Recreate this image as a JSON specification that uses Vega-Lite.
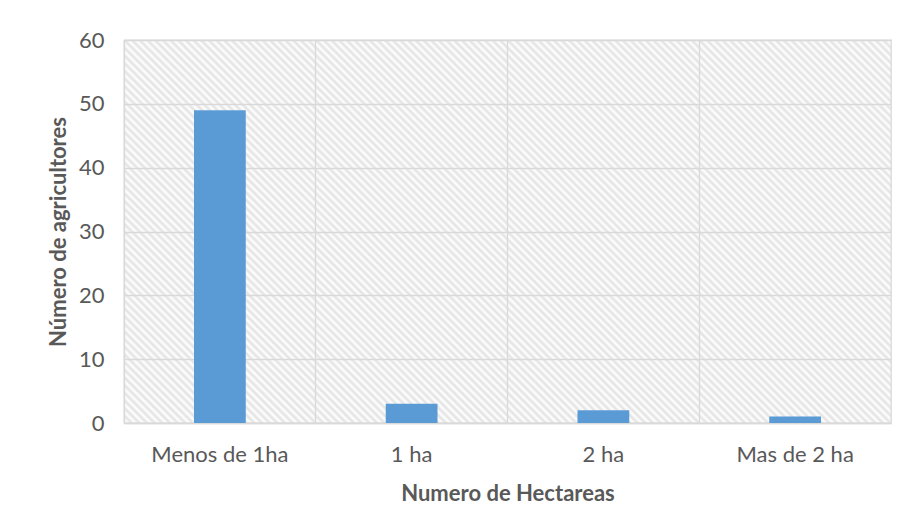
{
  "$schema": "https://vega.github.io/schema/vega-lite/v6.json",
  "width": 767,
  "height": 383,
  "autosize": {"type": "none"},
  "padding": {"left": 124, "top": 40, "right": 16, "bottom": 105},
  "background": "white",
  "data": {"values": [
    {"cat": "Menos de 1ha", "n": 49},
    {"cat": "1 ha", "n": 3},
    {"cat": "2 ha", "n": 2},
    {"cat": "Mas de 2 ha", "n": 1}
  ]},
  "mark": {"type": "bar", "width": {"band": 0.27}, "color": "#5B9BD5"},
  "encoding": {
    "x": {"field": "cat", "type": "nominal", "sort": null,
      "scale": {"paddingInner": 0, "paddingOuter": 0},
      "axis": {"title": "Numero de Hectareas", "labelAngle": 0, "ticks": false, "tickSize": 0, "labelPadding": 21, "titlePadding": 18, "grid": true, "bandPosition": 0, "gridColor": "#d9d9d9", "domainColor": "#d9d9d9", "domainWidth": 1.3}},
    "y": {"field": "n", "type": "quantitative", "scale": {"domain": [0, 60]},
      "axis": {"title": "Número de agricultores", "values": [0, 10, 20, 30, 40, 50, 60], "domain": false, "ticks": false, "tickSize": 0, "labelPadding": 20, "titlePadding": 8, "gridColor": "#d9d9d9"}}
  },
  "config": {
    "font": "Lato",
    "axis": {"labelFont": "Lato", "labelFontSize": 22, "labelColor": "#595959", "titleFont": "Lato", "titleFontSize": 22, "titleFontWeight": "bold", "titleColor": "#595959", "gridWidth": 1.3},
    "view": {"stroke": "#d9d9d9", "strokeWidth": 1.3, "fill": {"gradient": "linear", "x1": 0, "y1": 1, "x2": 1.2, "y2": 0.4008, "stops": [
{"offset":0,"color":"#e2e2e2"},{"offset":0.0033,"color":"#fff"},{"offset":0.0067,"color":"#e2e2e2"},
{"offset":0.01,"color":"#fff"},{"offset":0.0133,"color":"#e2e2e2"},{"offset":0.0167,"color":"#fff"},
{"offset":0.02,"color":"#e2e2e2"},{"offset":0.0233,"color":"#fff"},{"offset":0.0267,"color":"#e2e2e2"},
{"offset":0.03,"color":"#fff"},{"offset":0.0333,"color":"#e2e2e2"},{"offset":0.0367,"color":"#fff"},
{"offset":0.04,"color":"#e2e2e2"},{"offset":0.0433,"color":"#fff"},{"offset":0.0467,"color":"#e2e2e2"},
{"offset":0.05,"color":"#fff"},{"offset":0.0533,"color":"#e2e2e2"},{"offset":0.0567,"color":"#fff"},
{"offset":0.06,"color":"#e2e2e2"},{"offset":0.0633,"color":"#fff"},{"offset":0.0667,"color":"#e2e2e2"},
{"offset":0.07,"color":"#fff"},{"offset":0.0733,"color":"#e2e2e2"},{"offset":0.0767,"color":"#fff"},
{"offset":0.08,"color":"#e2e2e2"},{"offset":0.0833,"color":"#fff"},{"offset":0.0867,"color":"#e2e2e2"},
{"offset":0.09,"color":"#fff"},{"offset":0.0933,"color":"#e2e2e2"},{"offset":0.0967,"color":"#fff"},
{"offset":0.10,"color":"#e2e2e2"},{"offset":0.1033,"color":"#fff"},{"offset":0.1067,"color":"#e2e2e2"},
{"offset":0.11,"color":"#fff"},{"offset":0.1133,"color":"#e2e2e2"},{"offset":0.1167,"color":"#fff"},
{"offset":0.12,"color":"#e2e2e2"},{"offset":0.1233,"color":"#fff"},{"offset":0.1267,"color":"#e2e2e2"},
{"offset":0.13,"color":"#fff"},{"offset":0.1333,"color":"#e2e2e2"},{"offset":0.1367,"color":"#fff"},
{"offset":0.14,"color":"#e2e2e2"},{"offset":0.1433,"color":"#fff"},{"offset":0.1467,"color":"#e2e2e2"},
{"offset":0.15,"color":"#fff"},{"offset":0.1533,"color":"#e2e2e2"},{"offset":0.1567,"color":"#fff"},
{"offset":0.16,"color":"#e2e2e2"},{"offset":0.1633,"color":"#fff"},{"offset":0.1667,"color":"#e2e2e2"},
{"offset":0.17,"color":"#fff"},{"offset":0.1733,"color":"#e2e2e2"},{"offset":0.1767,"color":"#fff"},
{"offset":0.18,"color":"#e2e2e2"},{"offset":0.1833,"color":"#fff"},{"offset":0.1867,"color":"#e2e2e2"},
{"offset":0.19,"color":"#fff"},{"offset":0.1933,"color":"#e2e2e2"},{"offset":0.1967,"color":"#fff"},
{"offset":0.20,"color":"#e2e2e2"},{"offset":0.2033,"color":"#fff"},{"offset":0.2067,"color":"#e2e2e2"},
{"offset":0.21,"color":"#fff"},{"offset":0.2133,"color":"#e2e2e2"},{"offset":0.2167,"color":"#fff"},
{"offset":0.22,"color":"#e2e2e2"},{"offset":0.2233,"color":"#fff"},{"offset":0.2267,"color":"#e2e2e2"},
{"offset":0.23,"color":"#fff"},{"offset":0.2333,"color":"#e2e2e2"},{"offset":0.2367,"color":"#fff"},
{"offset":0.24,"color":"#e2e2e2"},{"offset":0.2433,"color":"#fff"},{"offset":0.2467,"color":"#e2e2e2"},
{"offset":0.25,"color":"#fff"},{"offset":0.2533,"color":"#e2e2e2"},{"offset":0.2567,"color":"#fff"},
{"offset":0.26,"color":"#e2e2e2"},{"offset":0.2633,"color":"#fff"},{"offset":0.2667,"color":"#e2e2e2"},
{"offset":0.27,"color":"#fff"},{"offset":0.2733,"color":"#e2e2e2"},{"offset":0.2767,"color":"#fff"},
{"offset":0.28,"color":"#e2e2e2"},{"offset":0.2833,"color":"#fff"},{"offset":0.2867,"color":"#e2e2e2"},
{"offset":0.29,"color":"#fff"},{"offset":0.2933,"color":"#e2e2e2"},{"offset":0.2967,"color":"#fff"},
{"offset":0.30,"color":"#e2e2e2"},{"offset":0.3033,"color":"#fff"},{"offset":0.3067,"color":"#e2e2e2"},
{"offset":0.31,"color":"#fff"},{"offset":0.3133,"color":"#e2e2e2"},{"offset":0.3167,"color":"#fff"},
{"offset":0.32,"color":"#e2e2e2"},{"offset":0.3233,"color":"#fff"},{"offset":0.3267,"color":"#e2e2e2"},
{"offset":0.33,"color":"#fff"},{"offset":0.3333,"color":"#e2e2e2"},{"offset":0.3367,"color":"#fff"},
{"offset":0.34,"color":"#e2e2e2"},{"offset":0.3433,"color":"#fff"},{"offset":0.3467,"color":"#e2e2e2"},
{"offset":0.35,"color":"#fff"},{"offset":0.3533,"color":"#e2e2e2"},{"offset":0.3567,"color":"#fff"},
{"offset":0.36,"color":"#e2e2e2"},{"offset":0.3633,"color":"#fff"},{"offset":0.3667,"color":"#e2e2e2"},
{"offset":0.37,"color":"#fff"},{"offset":0.3733,"color":"#e2e2e2"},{"offset":0.3767,"color":"#fff"},
{"offset":0.38,"color":"#e2e2e2"},{"offset":0.3833,"color":"#fff"},{"offset":0.3867,"color":"#e2e2e2"},
{"offset":0.39,"color":"#fff"},{"offset":0.3933,"color":"#e2e2e2"},{"offset":0.3967,"color":"#fff"},
{"offset":0.40,"color":"#e2e2e2"},{"offset":0.4033,"color":"#fff"},{"offset":0.4067,"color":"#e2e2e2"},
{"offset":0.41,"color":"#fff"},{"offset":0.4133,"color":"#e2e2e2"},{"offset":0.4167,"color":"#fff"},
{"offset":0.42,"color":"#e2e2e2"},{"offset":0.4233,"color":"#fff"},{"offset":0.4267,"color":"#e2e2e2"},
{"offset":0.43,"color":"#fff"},{"offset":0.4333,"color":"#e2e2e2"},{"offset":0.4367,"color":"#fff"},
{"offset":0.44,"color":"#e2e2e2"},{"offset":0.4433,"color":"#fff"},{"offset":0.4467,"color":"#e2e2e2"},
{"offset":0.45,"color":"#fff"},{"offset":0.4533,"color":"#e2e2e2"},{"offset":0.4567,"color":"#fff"},
{"offset":0.46,"color":"#e2e2e2"},{"offset":0.4633,"color":"#fff"},{"offset":0.4667,"color":"#e2e2e2"},
{"offset":0.47,"color":"#fff"},{"offset":0.4733,"color":"#e2e2e2"},{"offset":0.4767,"color":"#fff"},
{"offset":0.48,"color":"#e2e2e2"},{"offset":0.4833,"color":"#fff"},{"offset":0.4867,"color":"#e2e2e2"},
{"offset":0.49,"color":"#fff"},{"offset":0.4933,"color":"#e2e2e2"},{"offset":0.4967,"color":"#fff"},
{"offset":0.50,"color":"#e2e2e2"},{"offset":0.5033,"color":"#fff"},{"offset":0.5067,"color":"#e2e2e2"},
{"offset":0.51,"color":"#fff"},{"offset":0.5133,"color":"#e2e2e2"},{"offset":0.5167,"color":"#fff"},
{"offset":0.52,"color":"#e2e2e2"},{"offset":0.5233,"color":"#fff"},{"offset":0.5267,"color":"#e2e2e2"},
{"offset":0.53,"color":"#fff"},{"offset":0.5333,"color":"#e2e2e2"},{"offset":0.5367,"color":"#fff"},
{"offset":0.54,"color":"#e2e2e2"},{"offset":0.5433,"color":"#fff"},{"offset":0.5467,"color":"#e2e2e2"},
{"offset":0.55,"color":"#fff"},{"offset":0.5533,"color":"#e2e2e2"},{"offset":0.5567,"color":"#fff"},
{"offset":0.56,"color":"#e2e2e2"},{"offset":0.5633,"color":"#fff"},{"offset":0.5667,"color":"#e2e2e2"},
{"offset":0.57,"color":"#fff"},{"offset":0.5733,"color":"#e2e2e2"},{"offset":0.5767,"color":"#fff"},
{"offset":0.58,"color":"#e2e2e2"},{"offset":0.5833,"color":"#fff"},{"offset":0.5867,"color":"#e2e2e2"},
{"offset":0.59,"color":"#fff"},{"offset":0.5933,"color":"#e2e2e2"},{"offset":0.5967,"color":"#fff"},
{"offset":0.60,"color":"#e2e2e2"},{"offset":0.6033,"color":"#fff"},{"offset":0.6067,"color":"#e2e2e2"},
{"offset":0.61,"color":"#fff"},{"offset":0.6133,"color":"#e2e2e2"},{"offset":0.6167,"color":"#fff"},
{"offset":0.62,"color":"#e2e2e2"},{"offset":0.6233,"color":"#fff"},{"offset":0.6267,"color":"#e2e2e2"},
{"offset":0.63,"color":"#fff"},{"offset":0.6333,"color":"#e2e2e2"},{"offset":0.6367,"color":"#fff"},
{"offset":0.64,"color":"#e2e2e2"},{"offset":0.6433,"color":"#fff"},{"offset":0.6467,"color":"#e2e2e2"},
{"offset":0.65,"color":"#fff"},{"offset":0.6533,"color":"#e2e2e2"},{"offset":0.6567,"color":"#fff"},
{"offset":0.66,"color":"#e2e2e2"},{"offset":0.6633,"color":"#fff"},{"offset":0.6667,"color":"#e2e2e2"},
{"offset":0.67,"color":"#fff"},{"offset":0.6733,"color":"#e2e2e2"},{"offset":0.6767,"color":"#fff"},
{"offset":0.68,"color":"#e2e2e2"},{"offset":0.6833,"color":"#fff"},{"offset":0.6867,"color":"#e2e2e2"},
{"offset":0.69,"color":"#fff"},{"offset":0.6933,"color":"#e2e2e2"},{"offset":0.6967,"color":"#fff"},
{"offset":0.70,"color":"#e2e2e2"},{"offset":0.7033,"color":"#fff"},{"offset":0.7067,"color":"#e2e2e2"},
{"offset":0.71,"color":"#fff"},{"offset":0.7133,"color":"#e2e2e2"},{"offset":0.7167,"color":"#fff"},
{"offset":0.72,"color":"#e2e2e2"},{"offset":0.7233,"color":"#fff"},{"offset":0.7267,"color":"#e2e2e2"},
{"offset":0.73,"color":"#fff"},{"offset":0.7333,"color":"#e2e2e2"},{"offset":0.7367,"color":"#fff"},
{"offset":0.74,"color":"#e2e2e2"},{"offset":0.7433,"color":"#fff"},{"offset":0.7467,"color":"#e2e2e2"},
{"offset":0.75,"color":"#fff"},{"offset":0.7533,"color":"#e2e2e2"},{"offset":0.7567,"color":"#fff"},
{"offset":0.76,"color":"#e2e2e2"},{"offset":0.7633,"color":"#fff"},{"offset":0.7667,"color":"#e2e2e2"},
{"offset":0.77,"color":"#fff"},{"offset":0.7733,"color":"#e2e2e2"},{"offset":0.7767,"color":"#fff"},
{"offset":0.78,"color":"#e2e2e2"},{"offset":0.7833,"color":"#fff"},{"offset":0.7867,"color":"#e2e2e2"},
{"offset":0.79,"color":"#fff"},{"offset":0.7933,"color":"#e2e2e2"},{"offset":0.7967,"color":"#fff"},
{"offset":0.80,"color":"#e2e2e2"},{"offset":0.8033,"color":"#fff"},{"offset":0.8067,"color":"#e2e2e2"},
{"offset":0.81,"color":"#fff"},{"offset":0.8133,"color":"#e2e2e2"},{"offset":0.8167,"color":"#fff"},
{"offset":0.82,"color":"#e2e2e2"},{"offset":0.8233,"color":"#fff"},{"offset":0.8267,"color":"#e2e2e2"},
{"offset":0.83,"color":"#fff"},{"offset":0.8333,"color":"#e2e2e2"},{"offset":0.8367,"color":"#fff"},
{"offset":0.84,"color":"#e2e2e2"},{"offset":0.8433,"color":"#fff"},{"offset":0.8467,"color":"#e2e2e2"},
{"offset":0.85,"color":"#fff"},{"offset":0.8533,"color":"#e2e2e2"},{"offset":0.8567,"color":"#fff"},
{"offset":0.86,"color":"#e2e2e2"},{"offset":0.8633,"color":"#fff"},{"offset":0.8667,"color":"#e2e2e2"},
{"offset":0.87,"color":"#fff"},{"offset":0.8733,"color":"#e2e2e2"},{"offset":0.8767,"color":"#fff"},
{"offset":0.88,"color":"#e2e2e2"},{"offset":0.8833,"color":"#fff"},{"offset":0.8867,"color":"#e2e2e2"},
{"offset":0.89,"color":"#fff"},{"offset":0.8933,"color":"#e2e2e2"},{"offset":0.8967,"color":"#fff"},
{"offset":0.90,"color":"#e2e2e2"},{"offset":0.9033,"color":"#fff"},{"offset":0.9067,"color":"#e2e2e2"},
{"offset":0.91,"color":"#fff"},{"offset":0.9133,"color":"#e2e2e2"},{"offset":0.9167,"color":"#fff"},
{"offset":0.92,"color":"#e2e2e2"},{"offset":0.9233,"color":"#fff"},{"offset":0.9267,"color":"#e2e2e2"},
{"offset":0.93,"color":"#fff"},{"offset":0.9333,"color":"#e2e2e2"},{"offset":0.9367,"color":"#fff"},
{"offset":0.94,"color":"#e2e2e2"},{"offset":0.9433,"color":"#fff"},{"offset":0.9467,"color":"#e2e2e2"},
{"offset":0.95,"color":"#fff"},{"offset":0.9533,"color":"#e2e2e2"},{"offset":0.9567,"color":"#fff"},
{"offset":0.96,"color":"#e2e2e2"},{"offset":0.9633,"color":"#fff"},{"offset":0.9667,"color":"#e2e2e2"},
{"offset":0.97,"color":"#fff"},{"offset":0.9733,"color":"#e2e2e2"},{"offset":0.9767,"color":"#fff"},
{"offset":0.98,"color":"#e2e2e2"},{"offset":0.9833,"color":"#fff"},{"offset":0.9867,"color":"#e2e2e2"},
{"offset":0.99,"color":"#fff"},{"offset":0.9933,"color":"#e2e2e2"},{"offset":0.9967,"color":"#fff"},
{"offset":1,"color":"#e2e2e2"}
    ]}}
  }
}
